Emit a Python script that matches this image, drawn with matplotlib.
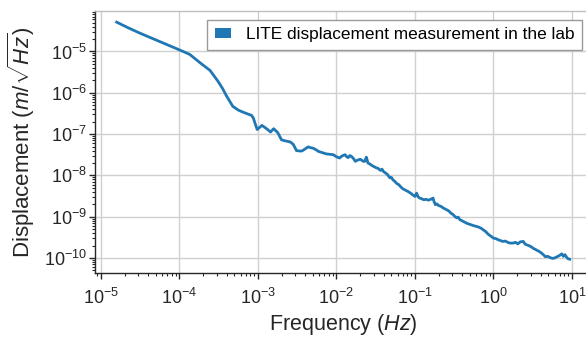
import numpy as np
import matplotlib
matplotlib.use("Agg")
import matplotlib.pyplot as plt
from matplotlib.patches import Patch

# log10 of frequency (Hz) and displacement (m/sqrt(Hz))
freq_log = [-4.80, -4.65, -4.50, -4.35, -4.21, -4.10, -3.99, -3.87, -3.74, -3.61,
            -3.51, -3.45, -3.40, -3.32, -3.25, -3.19, -3.08, -3.06, -3.01, -2.95,
            -2.89, -2.84, -2.80, -2.75, -2.70, -2.64, -2.59, -2.55, -2.51, -2.47,
            -2.44, -2.40, -2.36, -2.33, -2.30, -2.26, -2.23, -2.18, -2.13, -2.08,
            -2.04, -2.00, -1.96, -1.93, -1.89, -1.87, -1.85, -1.83, -1.81, -1.78,
            -1.76, -1.73, -1.70, -1.68, -1.66, -1.64, -1.62, -1.61, -1.60, -1.57,
            -1.55, -1.52, -1.49, -1.47, -1.44, -1.42, -1.40, -1.37, -1.35, -1.32,
            -1.30, -1.28, -1.26, -1.23, -1.21, -1.19, -1.17, -1.15, -1.12, -1.10,
            -1.08, -1.05, -1.03, -1.00, -0.98, -0.96, -0.94, -0.91, -0.89, -0.86,
            -0.83, -0.80, -0.77, -0.76, -0.74, -0.72, -0.70, -0.67, -0.64, -0.62,
            -0.60, -0.57, -0.54, -0.52, -0.50, -0.47, -0.45, -0.43, -0.40, -0.37,
            -0.34, -0.31, -0.28, -0.25, -0.21, -0.18, -0.15, -0.13, -0.10, -0.07,
            -0.05, -0.02, 0.00, 0.03, 0.06, 0.09, 0.12, 0.15, 0.18, 0.21,
            0.25, 0.28, 0.31, 0.34, 0.38, 0.40, 0.42, 0.45, 0.48, 0.51,
            0.55, 0.58, 0.61, 0.64, 0.66, 0.69, 0.72, 0.75, 0.78, 0.81,
            0.84, 0.87, 0.89, 0.91, 0.93, 0.95, 0.97]
disp_log = [-4.29, -4.43, -4.56, -4.68, -4.79, -4.88, -4.97, -5.07, -5.27, -5.46,
            -5.72, -5.90, -6.08, -6.33, -6.42, -6.47, -6.55, -6.61, -6.89, -6.79,
            -6.87, -6.95, -6.87, -6.96, -7.14, -7.17, -7.19, -7.25, -7.40, -7.41,
            -7.41, -7.36, -7.31, -7.33, -7.34, -7.38, -7.42, -7.45, -7.48, -7.49,
            -7.50, -7.55, -7.58, -7.53, -7.50, -7.55, -7.57, -7.52, -7.54, -7.60,
            -7.66, -7.63, -7.61, -7.63, -7.66, -7.66, -7.56, -7.62, -7.70, -7.73,
            -7.76, -7.79, -7.82, -7.83, -7.88, -7.85, -7.91, -7.95, -7.98, -8.06,
            -8.05, -8.11, -8.14, -8.20, -8.22, -8.26, -8.30, -8.33, -8.36, -8.38,
            -8.40, -8.44, -8.47, -8.51, -8.43, -8.52, -8.55, -8.57, -8.59, -8.58,
            -8.60, -8.58, -8.55, -8.62, -8.71, -8.69, -8.73, -8.75, -8.79, -8.81,
            -8.83, -8.86, -8.92, -8.94, -8.98, -9.03, -9.01, -9.07, -9.10, -9.13,
            -9.16, -9.18, -9.20, -9.22, -9.24, -9.26, -9.29, -9.32, -9.36, -9.42,
            -9.45, -9.49, -9.52, -9.53, -9.56, -9.58, -9.60, -9.59, -9.62, -9.64,
            -9.64, -9.62, -9.66, -9.61, -9.60, -9.66, -9.68, -9.70, -9.73, -9.77,
            -9.81, -9.84, -9.88, -9.93, -9.97, -9.96, -9.99, -10.01, -10.00, -9.97,
            -9.94, -9.90, -9.96, -9.92, -9.98, -10.02, -10.03]

freq = np.power(10.0, freq_log)
disp = np.power(10.0, disp_log)

legend_label = "LITE displacement measurement in the lab"
line_color = "#1f77b4"

plt.rcParams['font.family'] = ['Liberation Sans', 'DejaVu Sans']
plt.rcParams['mathtext.fontset'] = 'custom'
plt.rcParams['mathtext.rm'] = 'Liberation Sans'
plt.rcParams['mathtext.it'] = 'Liberation Sans:italic'
plt.rcParams['mathtext.bf'] = 'Liberation Sans:bold'
plt.rcParams['mathtext.sf'] = 'Liberation Sans'

fig = plt.figure(figsize=(5.86, 3.37), dpi=100)
ax = fig.add_axes([95/586, (337-273)/337, (591-95)/586, (273-11)/337])

ax.plot(freq, disp, color=line_color, lw=2.0)
ax.set_xscale('log')
ax.set_yscale('log')
ax.set_xlim(10**-5.076, 10**1.242)
ax.set_ylim(10**-10.364, 10**-4.02)

ax.grid(True, which='major', color='#d0d0d0', lw=1.0)
ax.set_axisbelow(True)
for s in ['left', 'bottom']:
    ax.spines[s].set_color('#262626')
    ax.spines[s].set_linewidth(1.0)
for s in ['top', 'right']:
    ax.spines[s].set_color('#bdbdbd')
    ax.spines[s].set_linewidth(1.0)

ax.tick_params(which='major', length=4, width=1, color='#262626', labelsize=13, labelcolor='#262626')
ax.tick_params(which='minor', length=2.5, width=0.8, color='#262626')
ax.tick_params(axis='x', which='major', pad=6.5)
ax.tick_params(axis='y', which='major', pad=2)

ax.set_xlabel(r'Frequency ($Hz$)', fontsize=15.5, color='#262626', labelpad=3)
ax.set_ylabel(r'Displacement ($m/\sqrt{Hz}$)', fontsize=16, color='#262626', labelpad=5)

handle = Patch(facecolor=line_color, edgecolor='none')
leg = ax.legend([handle], [legend_label], loc='upper right', fontsize=12.4, fancybox=False,
                frameon=True, edgecolor='#9a9a9a', framealpha=1.0,
                handlelength=0.95, handleheight=0.5, handletextpad=0.85, borderpad=0.45)
leg.get_frame().set_linewidth(1.0)

fig.savefig('out.png', dpi=100)
